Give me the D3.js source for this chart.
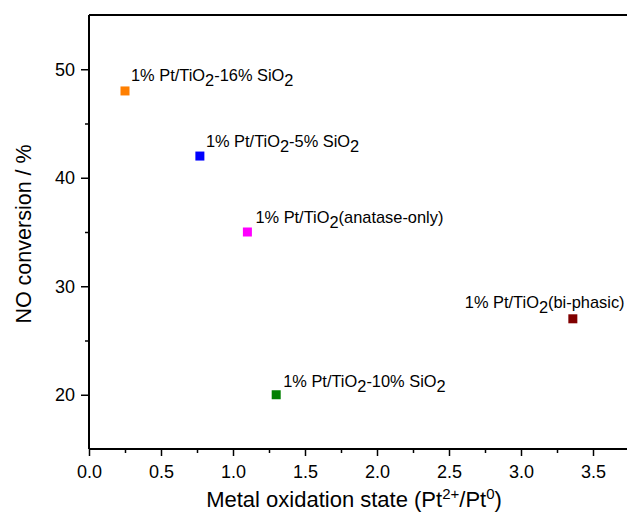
<!DOCTYPE html>
<html>
<head>
<meta charset="utf-8">
<script src="https://cdn.jsdelivr.net/npm/d3@7"></script>
<style>
  body { margin: 0; background: #fff; }
  text { font-family: "Liberation Sans", Arial, sans-serif; }
</style>
</head>
<body>
<svg id="chart"></svg>
<script>
// samples: [text before subscript, subscript, text after]
const samples = [
  ["1% Pt/TiO", "2", "-16% SiO", "2"],
  ["1% Pt/TiO", "2", "-5% SiO", "2"],
  ["1% Pt/TiO", "2", "(anatase-only)", ""],
  ["1% Pt/TiO", "2", "(bi-phasic)", ""],
  ["1% Pt/TiO", "2", "-10% SiO", "2"]
];
const oxidationState = [0.25, 0.77, 1.1, 3.36, 1.3];
const noConversion = [48, 42, 35, 27, 20];
const colors = ["#ff7f00", "#0000ff", "#ff00ff", "#800000", "#008000"];
const xTicks = [0, 0.5, 1.0, 1.5, 2.0, 2.5, 3.0, 3.5];
const yTicks = [20, 30, 40, 50];

const width = 627;
const height = 518;
const margin = { left: 89, top: 15, right: -2, bottom: 69 };

// label placement relative to the marker (dx, dy)
const labelOffsets = [[6, -10], [6, -9], [8, -9], [-108, -11], [7, -8]];

const svg = d3.select("#chart").attr("width", width).attr("height", height);

const x = d3.scaleLinear().domain([0, 3.75]).range([margin.left, width - margin.right]);
const y = d3.scaleLinear().domain([15, 55]).range([height - margin.bottom, margin.top]);

// minor ticks
const xMinor = d3.range(0.25, 3.75, 0.5);
const yMinor = d3.range(25, 55, 10);

const xAxis = svg.append("g")
  .attr("transform", `translate(0,${height - margin.bottom})`)
  .call(d3.axisBottom(x).tickValues(xTicks).tickFormat(d3.format(".1f")).tickSize(7).tickPadding(9));
svg.append("g")
  .attr("transform", `translate(0,${height - margin.bottom})`)
  .call(d3.axisBottom(x).tickValues(xMinor).tickFormat("").tickSize(4))
  .call(g => g.select(".domain").remove());

const yAxis = svg.append("g")
  .attr("transform", `translate(${margin.left},0)`)
  .call(d3.axisLeft(y).tickValues(yTicks).tickSize(8).tickPadding(6));
svg.append("g")
  .attr("transform", `translate(${margin.left},0)`)
  .call(d3.axisLeft(y).tickValues(yMinor).tickFormat("").tickSize(4))
  .call(g => g.select(".domain").remove());

svg.selectAll(".domain").attr("stroke", "#000").attr("stroke-width", 2);
svg.selectAll(".tick line").attr("stroke", "#000").attr("stroke-width", 1.5);
svg.selectAll(".tick text").attr("font-size", 18).attr("fill", "#000")
  .attr("font-family", "Liberation Sans, Arial, sans-serif");
xAxis.selectAll(".domain").attr("d", `M${margin.left},0H${width - margin.right}`);
yAxis.selectAll(".domain").attr("d", `M0,${height - margin.bottom}V${margin.top}`);

// top frame line
svg.append("line")
  .attr("x1", margin.left).attr("x2", width - margin.right)
  .attr("y1", margin.top).attr("y2", margin.top)
  .attr("stroke", "#000").attr("stroke-width", 2);

// markers
const size = 9;
svg.selectAll("rect.pt")
  .data(samples)
  .join("rect")
  .attr("class", "pt")
  .attr("x", (d, i) => x(oxidationState[i]) - size / 2)
  .attr("y", (d, i) => y(noConversion[i]) - size / 2)
  .attr("width", size)
  .attr("height", size)
  .attr("fill", (d, i) => colors[i]);

// labels
const labels = svg.selectAll("text.lbl")
  .data(samples)
  .join("text")
  .attr("class", "lbl")
  .attr("x", (d, i) => x(oxidationState[i]) + labelOffsets[i][0])
  .attr("y", (d, i) => y(noConversion[i]) + labelOffsets[i][1])
  .attr("font-size", 16.4)
  .attr("fill", "#000");

labels.each(function (d) {
  const t = d3.select(this);
  t.append("tspan").text(d[0]);
  t.append("tspan").attr("dy", 5).text(d[1]);
  t.append("tspan").attr("dy", -5).text(d[2]);
  if (d[3]) t.append("tspan").attr("dy", 5).text(d[3]);
});

// axis titles
const xTitle = svg.append("text")
  .attr("x", (margin.left + 627) / 2 - 4)
  .attr("y", 507)
  .attr("text-anchor", "middle")
  .attr("font-size", 22)
  .attr("fill", "#000");
xTitle.append("tspan").text("Metal oxidation state (Pt");
xTitle.append("tspan").attr("dy", -8).attr("font-size", 15).text("2+");
xTitle.append("tspan").attr("dy", 8).text("/Pt");
xTitle.append("tspan").attr("dy", -8).attr("font-size", 15).text("0");
xTitle.append("tspan").attr("dy", 8).text(")");

svg.append("text")
  .attr("transform", `translate(31,${(margin.top + height - margin.bottom) / 2 + 2}) rotate(-90)`)
  .attr("text-anchor", "middle")
  .attr("font-size", 21.5)
  .attr("fill", "#000")
  .text("NO conversion / %");
</script>
</body>
</html>
